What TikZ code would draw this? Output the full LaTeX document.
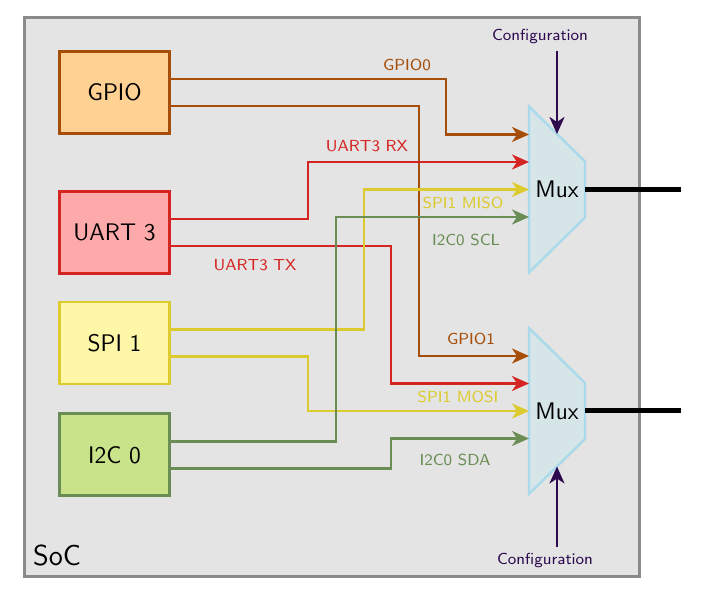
\documentclass[tikz,border=0pt]{standalone}
\usepackage{tikz}
\usetikzlibrary{positioning,arrows.meta,calc}
\definecolor{SocFill}{HTML}{E4E4E4}
\definecolor{SocLine}{HTML}{8A8A8A}
\definecolor{GpioFill}{HTML}{FFD294}
\definecolor{GpioLine}{HTML}{A64E08}
\definecolor{UartFill}{HTML}{FFAAAA}
\definecolor{UartLine}{HTML}{D42522}
\definecolor{SpiFill}{HTML}{FFF7A8}
\definecolor{SpiLine}{HTML}{DCCB2E}
\definecolor{IicFill}{HTML}{C8E38A}
\definecolor{IicLine}{HTML}{6A8C55}
\definecolor{MuxFill}{HTML}{D6E5E8}
\definecolor{MuxLine}{HTML}{A9D9EA}
\definecolor{CfgColor}{HTML}{2D0A4E}

\begin{document}
\begin{tikzpicture}[x=5pt,y=5pt,font=\sffamily,
    block/.style={draw,line width=1.4pt,minimum width=55pt,minimum height=41pt,font=\sffamily\large},
    sig/.style={line width=1.2pt,-{Stealth[length=8.5pt,width=7.5pt,inset=2.5pt]}},
    siglabel/.style={font=\sffamily\footnotesize},
    cfgarrow/.style={line width=1.2pt,CfgColor,-{Stealth[length=8.5pt,width=7.5pt,inset=2.5pt]}},
    muxshape/.style={fill=MuxFill,draw=MuxLine,line width=1.2pt}]

  \useasboundingbox (0,0) rectangle (70.2,59.7);

  % SoC
  \draw[fill=SocFill,draw=SocLine,line width=1.5pt] (2.4,2.0) rectangle (63.9,57.9);
  \node[font=\sffamily\Large] (soc) at (5.7,4.1) {SoC};

  % peripherals
  \node[block,fill=GpioFill,draw=GpioLine] (gpio) at (11.45,50.45) {GPIO};
  \node[block,fill=UartFill,draw=UartLine,below=27.5pt of gpio] (uart) {UART 3};
  \node[block,fill=SpiFill,draw=SpiLine,below=13pt of uart] (spi) {SPI 1};
  \node[block,fill=IicFill,draw=IicLine,below=13.5pt of spi] (iic) {I2C 0};

  % multiplexers
  \foreach \m/\y in {mux1/40.75,mux2/18.6} {
    \coordinate (\m) at (55.7,\y);
    \draw[muxshape] ($(\m)+(-2.8,8.3)$) -- ($(\m)+(2.8,2.8)$) -- ($(\m)+(2.8,-2.8)$) -- ($(\m)+(-2.8,-8.3)$) -- cycle;
    \node[font=\sffamily\large] (\m-txt) at (\m) {Mux};
    \coordinate (\m-in1) at ($(\m)+(-2.8,5.5)$);
    \coordinate (\m-in2) at ($(\m)+(-2.8,2.75)$);
    \coordinate (\m-in3) at ($(\m)+(-2.8,0)$);
    \coordinate (\m-in4) at ($(\m)+(-2.8,-2.75)$);
    \coordinate (\m-top) at ($(\m)+(0,5.55)$);
    \coordinate (\m-bot) at ($(\m)+(0,-5.55)$);
    \coordinate (\m-pin) at ($(\m)+(2.8,0)$);
    \coordinate (\m-out) at (68.1,\y);
    \draw[line width=2.5pt] (\m-pin) -- (\m-out);
  }

  % configuration inputs
  \node[siglabel,text=CfgColor] (cfg1) at (54.0,56.0) {Configuration};
  \node[siglabel,text=CfgColor] (cfg2) at (54.5,3.6) {Configuration};
  \draw[cfgarrow] (cfg1.south -| mux1) -- (mux1-top);
  \draw[cfgarrow] (cfg2.north -| mux2) -- (mux2-bot);

  % GPIO
  \draw[sig,GpioLine] ([yshift=6.75pt]gpio.east) -- ++(27.5,0) |- (mux1-in1);
  \draw[sig,GpioLine] ([yshift=-6.75pt]gpio.east) -- ++(24.8,0) |- (mux2-in1);
  \node[siglabel,text=GpioLine] (lbl-gpio0) at (40.7,53.2) {GPIO0};
  \node[siglabel,text=GpioLine] (lbl-gpio1) at (47.1,25.8) {GPIO1};

  % UART 3
  \draw[sig,UartLine] ([yshift=6.75pt]uart.east) -- ++(13.7,0) |- (mux1-in2);
  \draw[sig,UartLine] ([yshift=-6.75pt]uart.east) -- ++(22.0,0) |- (mux2-in2);
  \node[siglabel,text=UartLine] (lbl-rx) at (36.7,45.1) {UART3 RX};
  \node[siglabel,text=UartLine] (lbl-tx) at (25.5,33.2) {UART3 TX};

  % SPI 1
  \draw[sig,SpiLine] ([yshift=6.75pt]spi.east) -- ++(19.3,0) |- (mux1-in3);
  \draw[sig,SpiLine] ([yshift=-6.75pt]spi.east) -- ++(13.7,0) |- (mux2-in3);
  \node[siglabel,text=SpiLine] (lbl-miso) at (46.3,39.4) {SPI1 MISO};
  \node[siglabel,text=SpiLine] (lbl-mosi) at (45.8,20.0) {SPI1 MOSI};

  % I2C 0
  \draw[sig,IicLine] ([yshift=6.75pt]iic.east) -- ++(16.5,0) |- (mux1-in4);
  \draw[sig,IicLine] ([yshift=-6.75pt]iic.east) -- ++(22.0,0) |- (mux2-in4);
  \node[siglabel,text=IicLine] (lbl-scl) at (46.6,35.7) {I2C0 SCL};
  \node[siglabel,text=IicLine] (lbl-sda) at (45.5,13.7) {I2C0 SDA};
\end{tikzpicture}
\end{document}
